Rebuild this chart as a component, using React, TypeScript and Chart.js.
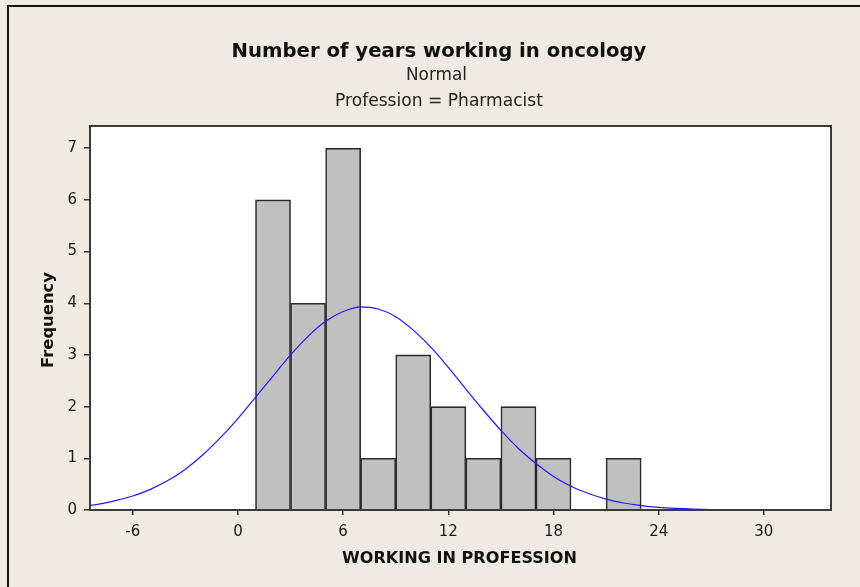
import React, { useEffect, useRef } from "react";
import { Chart, registerables } from "chart.js";

Chart.register(...registerables);

// Histogram bins (width 2), centres and counts
const binCenters = [2, 4, 6, 8, 10, 12, 14, 16, 18, 20, 22];
const binCounts = [6, 4, 7, 1, 3, 2, 1, 2, 1, null, 1];

// Fitted normal curve
const curveX = [-9, -8, -7, -6, -5, -4, -3, -2, -1, 0, 1, 2, 3, 4, 5, 6, 7, 8, 9, 10, 11, 12, 13, 14, 15, 16, 17, 18, 19, 20, 21, 22, 23, 24, 25, 26, 27, 28];
const curveY = [0.07, 0.11, 0.18, 0.27, 0.4, 0.57, 0.79, 1.07, 1.4, 1.77, 2.18, 2.59, 3.0, 3.36, 3.65, 3.84, 3.93, 3.89, 3.74, 3.48, 3.15, 2.76, 2.34, 1.93, 1.54, 1.19, 0.9, 0.65, 0.46, 0.32, 0.21, 0.135, 0.084, 0.05, 0.03, 0.017, 0.009, 0.005];

const xTicks = [-6, 0, 6, 12, 18, 24, 30];
const yTicks = [0, 1, 2, 3, 4, 5, 6, 7];

const titleText = "Number of years working in oncology";
const subtitle1 = "Normal";
const subtitle2 = "Profession = Pharmacist";
const xTitle = "WORKING IN PROFESSION";
const yTitle = "Frequency";

const FAMILY = "'DejaVu Sans', Tahoma, sans-serif";

function fitFont(ctx: CanvasRenderingContext2D, text: string, weight: string, width: number) {
  ctx.font = `${weight} 20px ${FAMILY}`;
  const w = ctx.measureText(text).width;
  const size = (20 * width) / w;
  ctx.font = `${weight} ${size.toFixed(2)}px ${FAMILY}`;
}

const decorPlugin = {
  id: "decor",
  beforeDraw(chart: any) {
    const ctx = chart.ctx as CanvasRenderingContext2D;
    const a = chart.chartArea;
    ctx.save();
    ctx.fillStyle = "#efebe2";
    ctx.fillRect(0, 0, chart.width, chart.height);
    ctx.fillStyle = "#111111";
    ctx.fillRect(7, 5, 2, chart.height - 5);
    ctx.fillRect(7, 5, chart.width - 7, 2);
    ctx.fillStyle = "#ffffff";
    ctx.fillRect(a.left, a.top, a.right - a.left, a.bottom - a.top);
    ctx.restore();
  },
  afterDraw(chart: any) {
    const ctx = chart.ctx as CanvasRenderingContext2D;
    const a = chart.chartArea;
    ctx.save();
    ctx.strokeStyle = "#3a3a3a";
    ctx.lineWidth = 2;
    ctx.strokeRect(a.left, a.top, a.right - a.left, a.bottom - a.top);

    ctx.fillStyle = "#111111";
    ctx.textAlign = "center";
    ctx.textBaseline = "alphabetic";
    fitFont(ctx, titleText, "bold", 415);
    ctx.fillText(titleText, 439, 57);
    ctx.fillStyle = "#222222";
    fitFont(ctx, subtitle1, "normal", 61);
    ctx.fillText(subtitle1, 436.5, 80);
    fitFont(ctx, subtitle2, "normal", 208);
    ctx.fillText(subtitle2, 439, 106);

    ctx.fillStyle = "#111111";
    fitFont(ctx, xTitle, "bold", 235);
    ctx.fillText(xTitle, (a.left + a.right) / 2 - 1, 563);

    ctx.translate(53, 320);
    ctx.rotate(-Math.PI / 2);
    fitFont(ctx, yTitle, "bold", 96);
    ctx.fillText(yTitle, 0, 0);
    ctx.restore();
  },
};

export default function App() {
  const ref = useRef<HTMLCanvasElement>(null);

  useEffect(() => {
    if (!ref.current) return;
    const chart = new Chart(ref.current, {
      type: "bar",
      data: {
        datasets: [
          {
            type: "line" as const,
            label: "Normal",
            data: curveX.map((x, i) => ({ x, y: curveY[i] })),
            borderColor: "#1a1aff",
            borderWidth: 1.2,
            pointRadius: 0,
            cubicInterpolationMode: "monotone" as const,
            fill: false,
            order: 0,
          },
          {
            type: "bar" as const,
            label: "Frequency",
            data: binCenters.map((x, i) => ({ x, y: binCounts[i] })),
            backgroundColor: "#c0c0c0",
            borderColor: "#2a2a2a",
            borderWidth: 1.6,
            barPercentage: 1,
            categoryPercentage: 1,
            order: 1,
          } as any,
        ],
      },
      options: {
        animation: false,
        responsive: false,
        devicePixelRatio: 1,
        layout: { padding: { left: 30, right: 29, top: 126, bottom: 17 } },
        plugins: {
          legend: { display: false },
          tooltip: { enabled: false },
          title: { display: false },
        },
        scales: {
          x: {
            type: "linear",
            min: -8.44,
            max: 33.83,
            offset: false,
            afterFit: (s: any) => {
              s.height = 60;
            },
            afterBuildTicks: (s: any) => {
              s.ticks = xTicks.map((v) => ({ value: v }));
            },
            ticks: {
              autoSkip: false,
              maxRotation: 0,
              padding: 8,
              color: "#1a1a1a",
              font: { family: FAMILY, size: 15 },
              callback: (v: any) => String(v),
            },
            grid: { display: true, offset: false, drawOnChartArea: false, drawTicks: true, tickLength: 5, color: "#333333", lineWidth: 1.5 },
            border: { display: false },
          },
          y: {
            type: "linear",
            min: 0,
            max: 7.43,
            afterFit: (s: any) => {
              s.width = 60;
            },
            afterBuildTicks: (s: any) => {
              s.ticks = yTicks.map((v) => ({ value: v }));
            },
            ticks: {
              autoSkip: false,
              padding: 7,
              color: "#1a1a1a",
              font: { family: FAMILY, size: 15 },
              callback: (v: any) => String(v),
            },
            grid: { display: true, offset: false, drawOnChartArea: false, drawTicks: true, tickLength: 6, color: "#333333", lineWidth: 1.5 },
            border: { display: false },
          },
        },
      },
      plugins: [decorPlugin],
    });
    return () => chart.destroy();
  }, []);

  return (
    <div style={{ position: "fixed", left: 0, top: 0, width: 860, height: 587, background: "#efebe2" }}>
      <canvas ref={ref} width={860} height={587} style={{ display: "block", width: 860, height: 587 }} />
    </div>
  );
}
